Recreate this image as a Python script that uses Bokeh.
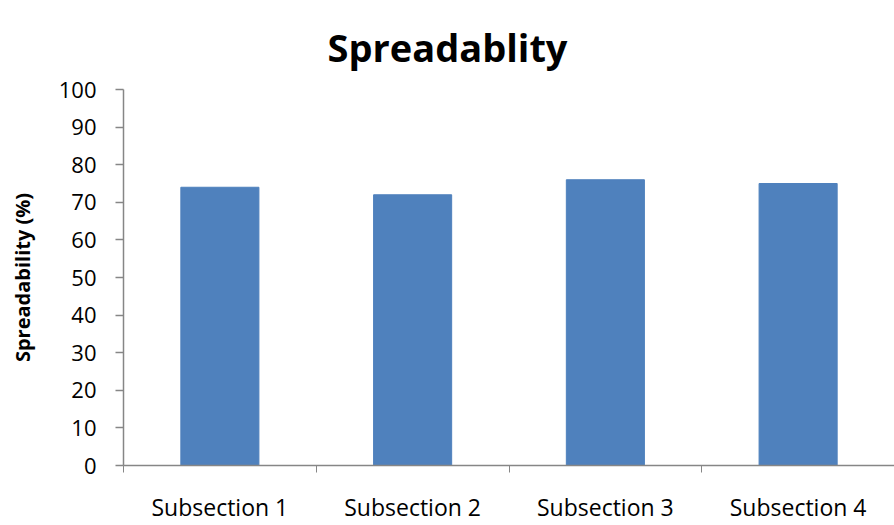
from bokeh.plotting import figure
from bokeh.models import FixedTicker, Range1d
from bokeh.embed import file_html
from bokeh.resources import INLINE

# Spreadability per subsection (%)
categories = ["Subsection 1", "Subsection 2", "Subsection 3", "Subsection 4"]
spreadability = [74, 72, 76, 75]
y_ticks = [0, 10, 20, 30, 40, 50, 60, 70, 80, 90, 100]
chart_title = "Spreadablity"

FONT = "Open Sans"
AXIS_GREY = "#868686"
BAR_BLUE = "#4F81BD"

n = len(categories)
centers = [i + 0.5 for i in range(n)]
bounds = list(range(n + 1))

p = figure(
    width=894, height=525,
    output_backend="svg", toolbar_location=None,
    x_range=Range1d(0, n), y_range=Range1d(0, 100),
    min_border_left=123, min_border_right=0,
    min_border_top=89, min_border_bottom=59,
    title=chart_title,
)
p.outline_line_color = None
p.grid.visible = False
p.background_fill_color = "white"
p.border_fill_color = "white"

# main title, centred over the canvas width
p.title.text_font = FONT
p.title.text_font_size = "38px"
p.title.text_font_style = "bold"
p.title.text_color = "black"
p.title.align = "left"
p.title.offset = 204
p.title.standoff = 33

p.vbar(x=centers, top=spreadability, width=0.405, color=BAR_BLUE)

# x axis: labels at category centres, tick marks at category boundaries
xa = p.xaxis[0]
xa.ticker = FixedTicker(ticks=centers, minor_ticks=bounds)
xa.major_label_overrides = {c: lab for c, lab in zip(centers, categories)}
xa.major_tick_out = 0
xa.major_tick_in = 0
xa.minor_tick_out = 7
xa.minor_tick_in = 0
xa.minor_tick_line_color = AXIS_GREY
xa.axis_line_color = AXIS_GREY
xa.axis_line_width = 1.5
xa.major_label_text_font = FONT
xa.major_label_text_font_size = "23px"
xa.major_label_text_color = "black"
xa.major_label_standoff = 18

ya = p.yaxis[0]
ya.ticker = FixedTicker(ticks=y_ticks, minor_ticks=[])
ya.major_tick_out = 8
ya.major_tick_in = 0
ya.major_tick_line_color = AXIS_GREY
ya.major_tick_line_width = 1.5
ya.axis_line_color = AXIS_GREY
ya.axis_line_width = 1.5
ya.major_label_text_font = FONT
ya.major_label_text_font_size = "22px"
ya.major_label_text_color = "black"
ya.major_label_standoff = 19
ya.axis_label = "Spreadability (%)"
ya.axis_label_text_font = FONT
ya.axis_label_text_font_size = "20px"
ya.axis_label_text_font_style = "bold"
ya.axis_label_text_color = "black"
ya.axis_label_standoff = 20

open("out.html", "w").write(file_html(p, INLINE))
